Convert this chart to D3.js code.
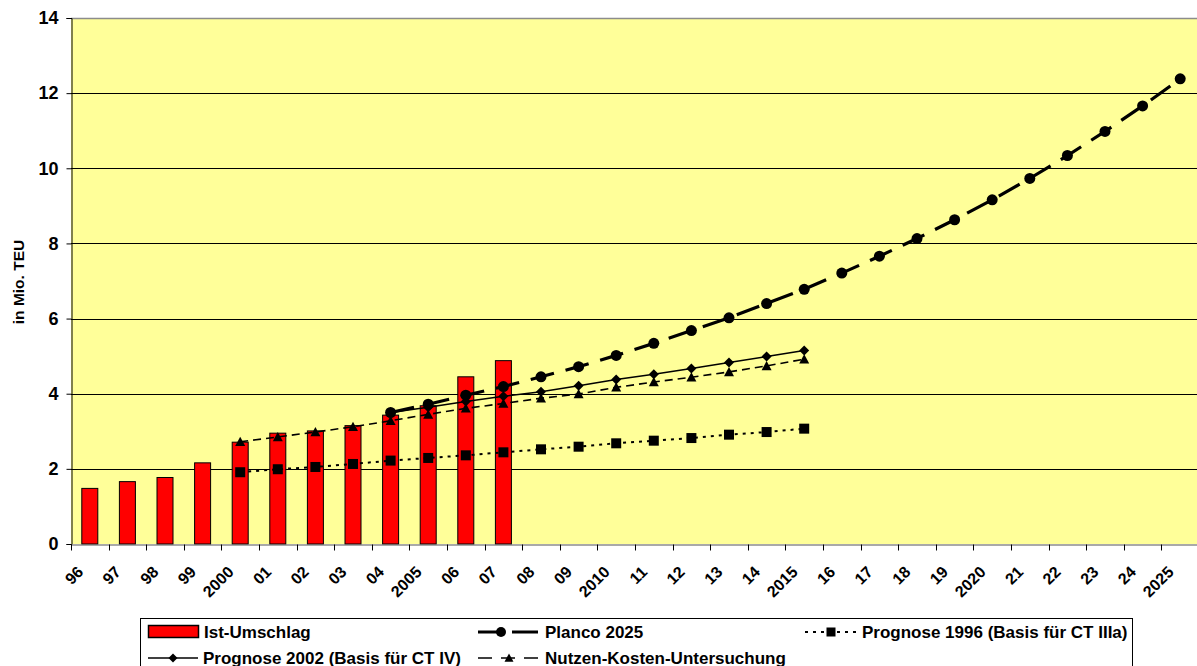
<!DOCTYPE html>
<html>
<head>
<meta charset="utf-8">
<script src="https://cdn.jsdelivr.net/npm/d3@7"></script>
<style>
  html, body { margin: 0; padding: 0; background: #fff; }
  svg { display: block; font-family: Arial, "Liberation Sans", sans-serif; }
</style>
</head>
<body>
<svg id="chart" width="1197" height="666"></svg>
<script>
// Container throughput (Mio. TEU): actual values and forecasts
const categories = ["96","97","98","99","2000","01","02","03","04","2005","06","07","08","09","2010",
  "11","12","13","14","2015","16","17","18","19","2020","21","22","23","24","2025"];

const istUmschlag = [1.48, 1.66, 1.77, 2.16, 2.71, 2.95, 3.01, 3.15, 3.43, 3.68, 4.45, 4.88];

const planco2025 = [null, null, null, null, null, null, null, null,
  3.50, 3.72, 3.96, 4.19, 4.45, 4.72, 5.02, 5.34, 5.68, 6.02, 6.40, 6.78,
  7.21, 7.66, 8.13, 8.63, 9.16, 9.73, 10.34, 10.98, 11.66, 12.38];

const prognose1996 = [null, null, null, null,
  1.91, 1.99, 2.05, 2.13, 2.22, 2.29, 2.36, 2.44, 2.52, 2.59, 2.68, 2.75, 2.82, 2.91, 2.98, 3.07];

const prognose2002 = [null, null, null, null, null, null, null, null,
  3.50, 3.64, 3.79, 3.93, 4.05, 4.21, 4.38, 4.52, 4.67, 4.83, 4.99, 5.15];

const nutzenKosten = [null, null, null, null,
  2.72, 2.85, 2.98, 3.12, 3.28, 3.45, 3.61, 3.74, 3.88, 3.99, 4.17, 4.31, 4.44, 4.58, 4.74, 4.92];

const yTicks = [0, 2, 4, 6, 8, 10, 12, 14];

const svg = d3.select("#chart");
const plot = { left: 71, top: 18, bottom: 544, right: 71 + 30 * 37.6 };

const x = d3.scaleBand().domain(categories).range([plot.left, plot.right]);
const y = d3.scaleLinear().domain([0, 14]).range([plot.bottom, plot.top]);
const cx = c => x(c) + x.bandwidth() / 2;

// plot background
svg.append("rect")
  .attr("x", plot.left).attr("y", plot.top)
  .attr("width", plot.right - plot.left).attr("height", plot.bottom - plot.top)
  .attr("fill", "#FFFF99");

// horizontal gridlines
svg.append("g").selectAll("line")
  .data(yTicks.filter(v => v > 0 && v < 14))
  .join("line")
  .attr("x1", plot.left).attr("x2", plot.right)
  .attr("y1", d => Math.round(y(d)) + 0.5).attr("y2", d => Math.round(y(d)) + 0.5)
  .attr("stroke", "#000").attr("stroke-width", 1);

// top border
svg.append("line")
  .attr("x1", plot.left).attr("x2", plot.right)
  .attr("y1", plot.top + 0.5).attr("y2", plot.top + 0.5)
  .attr("stroke", "#8c8c8c").attr("stroke-width", 1.5);

// bars
const barW = 16;
svg.append("g").selectAll("rect")
  .data(istUmschlag.map((v, i) => ({ c: categories[i], v })))
  .join("rect")
  .attr("x", d => cx(d.c) - barW / 2)
  .attr("y", d => y(d.v))
  .attr("width", barW)
  .attr("height", d => y(0) - y(d.v))
  .attr("fill", "#FF0000")
  .attr("stroke", "#000").attr("stroke-width", 1);

// y axis
const yAxis = d3.axisLeft(y).tickValues(yTicks).tickSize(5).tickPadding(8).tickFormat(d3.format("d"));
const gy = svg.append("g").attr("transform", `translate(${plot.left + 0.5},0)`).call(yAxis);
gy.select(".domain").attr("stroke", "#000");
gy.selectAll(".tick line").attr("stroke", "#000");
gy.selectAll(".tick text")
  .attr("font-size", 18).attr("font-weight", "bold").attr("fill", "#000")
  .attr("font-family", "Arial, 'Liberation Sans', sans-serif");

// x axis
const xAxis = d3.axisBottom(x).tickSize(0).tickFormat("");
const gx = svg.append("g").attr("transform", `translate(0,${plot.bottom + 0.5})`).call(xAxis);
gx.select(".domain").attr("stroke", "#555").attr("stroke-width", 1.2);
// tick marks on category boundaries
gx.append("g").selectAll("line")
  .data(categories)
  .join("line")
  .attr("x1", d => Math.round(x(d)) + 0.5).attr("x2", d => Math.round(x(d)) + 0.5)
  .attr("y1", 0).attr("y2", 6)
  .attr("stroke", "#000");
gx.append("g").selectAll("text")
  .data(categories)
  .join("text")
  .attr("transform", d => `translate(${cx(d) - 5.5},${28.5}) rotate(-45)`)
  .attr("text-anchor", "end")
  .attr("font-size", 16).attr("font-weight", "bold").attr("fill", "#000")
  .attr("font-family", "Arial, 'Liberation Sans', sans-serif")
  .text(d => d);

// y axis title
svg.append("text")
  .attr("transform", `translate(24,282) rotate(-90)`)
  .attr("text-anchor", "middle")
  .attr("font-size", 15.5).attr("font-weight", "bold")
  .text("in Mio. TEU");

// markers
function marker(sel, type, size) {
  if (type === "circle") {
    sel.append("circle").attr("r", size / 2).attr("fill", "#000");
  } else if (type === "square") {
    sel.append("rect").attr("x", -size / 2).attr("y", -size / 2)
      .attr("width", size).attr("height", size).attr("fill", "#000");
  } else if (type === "diamond") {
    const h = size / 2;
    sel.append("path").attr("d", `M0,${-h}L${h},0L0,${h}L${-h},0Z`).attr("fill", "#000");
  } else if (type === "triangle") {
    const h = size / 2;
    sel.append("path").attr("d", `M0,${-h}L${h},${h * 0.85}L${-h},${h * 0.85}Z`).attr("fill", "#000");
  }
}

const series = [
  { name: "Planco 2025", values: planco2025, width: 3.2, dash: "24,12", legendDash: "26,8", marker: "circle", size: 11 },
  { name: "Prognose 1996 (Basis für CT IIIa)", values: prognose1996, width: 2, dash: "3,5", legendDash: "3,5", marker: "square", size: 10 },
  { name: "Prognose 2002 (Basis für CT IV)", values: prognose2002, width: 1.5, dash: null, legendDash: null, marker: "diamond", size: 10 },
  { name: "Nutzen-Kosten-Untersuchung", values: nutzenKosten, width: 1.6, dash: "8,5", legendDash: "14,9", marker: "triangle", size: 10 }
];

const line = d3.line()
  .defined(d => d.v != null)
  .x(d => cx(d.c))
  .y(d => y(d.v));

series.forEach(s => {
  const pts = s.values.map((v, i) => ({ c: categories[i], v })).filter(d => d.v != null);
  const g = svg.append("g");
  g.append("path")
    .datum(pts)
    .attr("d", line)
    .attr("fill", "none")
    .attr("stroke", "#000")
    .attr("stroke-width", s.width)
    .attr("stroke-dasharray", s.dash);
  g.selectAll("g.m").data(pts).join("g")
    .attr("class", "m")
    .attr("transform", d => `translate(${cx(d.c)},${y(d.v)})`)
    .each(function () { marker(d3.select(this), s.marker, s.size); });
});

// legend
const lg = svg.append("g");
lg.append("rect")
  .attr("x", 140.5).attr("y", 618.5).attr("width", 992).attr("height", 60)
  .attr("fill", "#fff").attr("stroke", "#000").attr("stroke-width", 1);

const legendItems = [
  { label: "Ist-Umschlag", kind: "bar", x: 148, y: 632 },
  { label: series[0].name, kind: series[0], x: 478, y: 632 },
  { label: series[1].name, kind: series[1], x: 805, y: 632 },
  { label: series[2].name, kind: series[2], x: 148, y: 658 },
  { label: series[3].name, kind: series[3], x: 478, y: 658 }
];

legendItems.forEach(it => {
  const g = lg.append("g");
  let textX;
  if (it.kind === "bar") {
    g.append("rect").attr("x", it.x + 0.5).attr("y", it.y - 6.5).attr("width", 50).attr("height", 12)
      .attr("fill", "#FF0000").attr("stroke", "#000").attr("stroke-width", 1.5);
    textX = it.x + 56;
  } else {
    const s = it.kind;
    const len = it.x === 805 ? 52 : (it.x === 478 ? 62 : 50);
    g.append("line")
      .attr("x1", it.x).attr("x2", it.x + len)
      .attr("y1", it.y).attr("y2", it.y)
      .attr("stroke", "#000").attr("stroke-width", s.width)
      .attr("stroke-dasharray", s.legendDash);
    const m = g.append("g").attr("transform", `translate(${it.x + len / 2 - (s.marker === "circle" ? 8 : 0)},${it.y})`);
    marker(m, s.marker, s.size - 1);
    textX = it.x + len + 5;
  }
  g.append("text")
    .attr("x", textX).attr("y", it.y + 6)
    .attr("font-size", 17).attr("font-weight", "bold")
    .text(it.label);
});
</script>
</body>
</html>
